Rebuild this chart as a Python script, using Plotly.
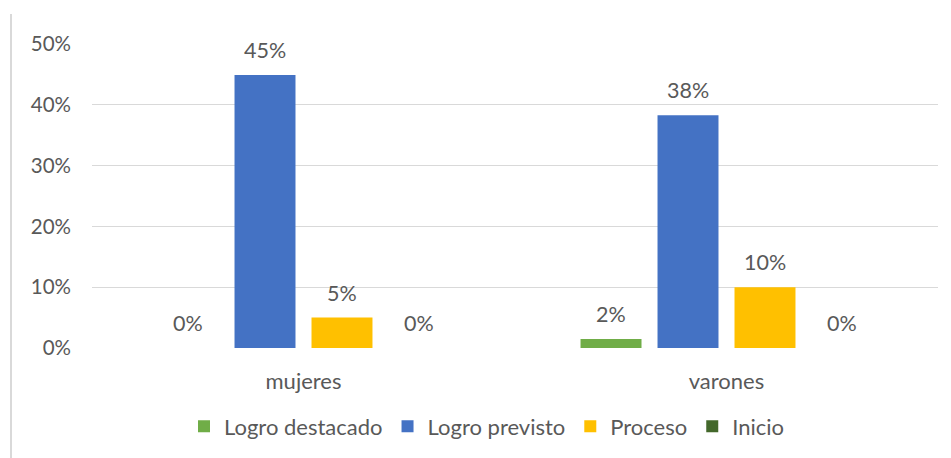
import plotly.graph_objects as go

categories = ["mujeres", "varones"]
series_names = ["Logro destacado", "Logro previsto", "Proceso", "Inicio"]
logro_destacado = [0.0, 0.015]
logro_previsto = [0.449, 0.383]
proceso = [0.05, 0.10]
inicio = [0.0, 0.0]
value_labels = [["0%", "2%"], ["45%", "38%"], ["5%", "10%"], ["0%", "0%"]]
tick_vals = [0, 0.1, 0.2, 0.3, 0.4, 0.5]
tick_text = ["0%", "10%", "20%", "30%", "40%", "50%"]

colors = ["#70AD47", "#4472C4", "#FFC000", "#43682B"]
all_series = [logro_destacado, logro_previsto, proceso, inicio]

FONT = "Lato"
GRAY = "#595959"

fig = go.Figure()
for name, vals, col in zip(series_names, all_series, colors):
    fig.add_trace(go.Bar(x=categories, y=vals, name=name, marker_color=col,
                         marker_line_width=0))

BODY = 8  # default page body margin
W, H = 951 - BODY, 458 - BODY
ml, mr, mt, mb = 92 - BODY, 13, 44 - BODY, 110
plot_w = W - ml - mr
plot_h = H - mt - mb
cat_w = plot_w / len(categories)
bargap = 0.272
slot = cat_w * (1 - bargap) / len(series_names)

annotations = []
for i, (vals, labs) in enumerate(zip(all_series, value_labels)):
    for c, v, t in zip(categories, vals, labs):
        annotations.append(dict(x=c, y=v, xref="x", yref="y", text=t, showarrow=False,
                                xshift=(i - 1.5) * slot, yshift=25, yanchor="middle",
                                font=dict(family=FONT, size=21.5, color=GRAY)))

line_x = (11 - BODY - ml) / plot_w
fig.update_layout(
    width=W, height=H,
    margin=dict(l=ml, r=mr, t=mt, b=mb, autoexpand=False),
    paper_bgcolor="white", plot_bgcolor="white",
    barmode="group", bargap=bargap, bargroupgap=0.208,
    font=dict(family=FONT, size=20, color=GRAY),
    showlegend=True,
    legend=dict(orientation="h", x=(184 - 92) / plot_w, xanchor="left", y=-0.258,
                yanchor="middle",
                font=dict(family=FONT, size=22, color=GRAY), itemwidth=30,
                traceorder="normal"),
    annotations=annotations,
    shapes=[dict(type="line", xref="paper", yref="paper",
                 x0=line_x, x1=line_x,
                 y0=(mt + plot_h - (14 - BODY)) / plot_h, y1=-mb / plot_h - 0.05,
                 line=dict(color="#D9D9D9", width=2))],
)
fig.update_yaxes(range=[0, 0.5], tickvals=tick_vals, ticktext=tick_text,
                 gridcolor="#D9D9D9", gridwidth=1, zeroline=False, showline=False,
                 ticks="", ticklabelstandoff=20, tickfont=dict(size=20.5, color=GRAY))
fig.update_xaxes(showline=False, ticks="", showgrid=False, ticklabelstandoff=18,
                 tickfont=dict(size=22, color=GRAY))

fig.write_html("out.html")
